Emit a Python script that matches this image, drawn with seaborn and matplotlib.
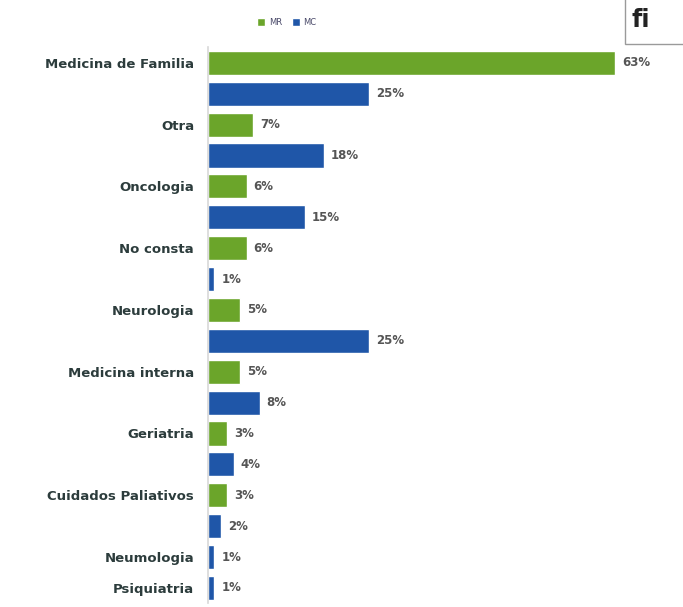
import matplotlib
matplotlib.use("Agg")
import matplotlib.pyplot as plt
from matplotlib.patches import Rectangle, Patch
import pandas as pd
import seaborn as sns

# Specialty of the prescribing physician, share per group
categories = ["Medicina de Familia", "Otra", "Oncologia", "No consta", "Neurologia",
              "Medicina interna", "Geriatria", "Cuidados Paliativos", "Neumologia", "Psiquiatria"]
mr_values = [63, 7, 6, 6, 5, 5, 3, 3, None, None]
mc_values = [25, 18, 15, 1, 25, 8, 4, 2, 1, 1]
series_names = ["MR", "MC"]
palette = {"MR": "#6ba52a", "MC": "#1f56a8"}

# One bar per row: MR first, then MC beneath it
rows = []
tick_labels = []
for cat, mr, mc in zip(categories, mr_values, mc_values):
    first = True
    for name, val in (("MR", mr), ("MC", mc)):
        if val is None:
            continue
        rid = f"r{len(rows)}"
        rows.append({"row": rid, "value": val, "serie": name})
        tick_labels.append(cat if first else "")
        first = False
df = pd.DataFrame(rows)

sns.set_theme(style="white")
plt.rcParams["font.family"] = ["DejaVu Sans"]

fig = plt.figure(figsize=(6.83, 6.07), dpi=100)
ax = fig.add_axes([0.3045, 0.006, 0.662, 0.916])

sns.barplot(data=df, y="row", x="value", hue="serie", order=df["row"].tolist(),
            hue_order=series_names, palette=palette, dodge=False, orient="h",
            width=0.78, saturation=1, ax=ax, legend=False)

for cont in ax.containers:
    ax.bar_label(cont, fmt="%d%%", padding=5, fontsize=8.5, fontweight="bold",
                 color="#555555")

ax.set_xlim(0, 70)
ax.set_ylim(len(rows) - 0.5, -0.5)
ax.set_yticks(range(len(rows)))
ax.set_yticklabels(tick_labels, fontsize=9.5, fontweight="bold", color="#2c3c3c")
ax.tick_params(axis="y", length=0, pad=10)
ax.set_xticks([])
ax.set_xlabel("")
ax.set_ylabel("")
for side in ("top", "right", "bottom"):
    ax.spines[side].set_visible(False)
ax.spines["left"].set_color("#d8d8d8")
ax.spines["left"].set_linewidth(1.2)

handles = [Patch(facecolor=palette[s], label=s) for s in series_names]
fig.legend(handles=handles, loc="center", bbox_to_anchor=(0.42, 0.963), ncol=2,
           frameon=False, fontsize=6, handlelength=1.0, handleheight=1.0,
           handletextpad=0.4, columnspacing=1.2, labelcolor="#4a4a6a")

# Boxed heading at the upper right edge
fig.patches.append(Rectangle((0.915, 0.928), 0.2, 0.09, transform=fig.transFigure,
                             facecolor="white", edgecolor="#9a9a9a", linewidth=1.0,
                             zorder=5))
fig.text(0.925, 0.955, "fi", fontsize=17, fontweight="bold", color="#222222",
         ha="left", va="baseline", zorder=6)

fig.savefig("out.png", dpi=100)
